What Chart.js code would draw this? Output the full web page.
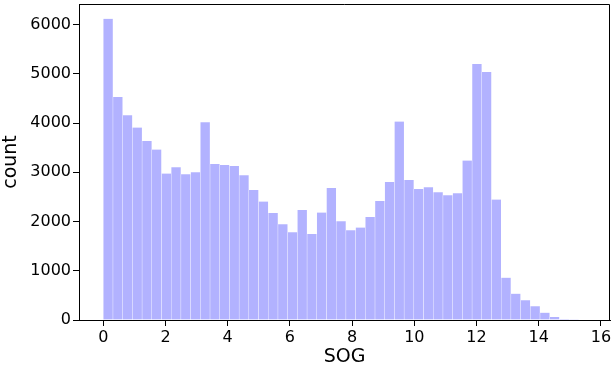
<!DOCTYPE html>
<html>
<head>
<meta charset="utf-8">
<script src="https://cdn.jsdelivr.net/npm/chart.js@4/dist/chart.umd.min.js"></script>
<style>
  html, body { margin: 0; padding: 0; background: #fff; }
  #wrap { width: 611px; height: 370px; }
</style>
</head>
<body>
<div id="wrap"><canvas id="grafico" width="611" height="370"></canvas></div>
<script>
// dados do histograma (SOG), 50 bins de 0 a ~15.6
const binStart = 0;
const binWidth = 0.312;
const contagens = [
  6118, 4533, 4160, 3909, 3638, 3462, 2974, 3103, 2961, 3001,
  4018, 3171, 3150, 3130, 2940, 2642, 2405, 2175, 1945, 1782,
  2236, 1748, 2182, 2683, 2005, 1822, 1877, 2093, 2419, 2805,
  4031, 2846, 2663, 2697, 2595, 2534, 2575, 3238, 5203, 5041,
  2446, 860, 535, 400, 278, 149, 61, 20, 14, 9
];
const xTicks = [0, 2, 4, 6, 8, 10, 12, 14, 16];
const yTicks = [0, 1000, 2000, 3000, 4000, 5000, 6000];
const xLabel = 'SOG';
const yLabel = 'count';

const pontos = contagens.map((c, i) => ({ x: binStart + binWidth * (i + 0.5), y: c }));

// moldura superior/direita (spines)
const moldura = {
  id: 'moldura',
  afterDraw(chart) {
    const { ctx, chartArea: a } = chart;
    ctx.save();
    ctx.strokeStyle = '#000';
    ctx.lineWidth = 1;
    ctx.beginPath();
    ctx.moveTo(a.left, a.top + 0.5);
    ctx.lineTo(a.right - 0.5, a.top + 0.5);
    ctx.lineTo(a.right - 0.5, a.bottom);
    ctx.stroke();
    ctx.restore();
  }
};

const fonteTick = { family: 'DejaVu Sans', size: 16 };
const fonteTitulo = { family: 'DejaVu Sans', size: 19 };

// zera o padding extra que o chart.js reserva p/ os rotulos das pontas
function semPadding(s) {
  s.paddingLeft = 0; s.paddingRight = 0; s.paddingTop = 0; s.paddingBottom = 0;
}

new Chart(document.getElementById('grafico').getContext('2d'), {
  type: 'bar',
  data: {
    datasets: [{
      data: pontos,
      backgroundColor: 'rgba(0, 0, 255, 0.3)',
      borderColor: 'rgba(255, 255, 255, 0.35)',
      borderWidth: { left: 0.5, right: 0.5, top: 0, bottom: 0 },
      borderSkipped: false,
      barPercentage: 1,
      categoryPercentage: 1
    }]
  },
  options: {
    responsive: false,
    animation: false,
    layout: { padding: { top: 4, right: 1, left: 0, bottom: 0 } },
    plugins: { legend: { display: false }, tooltip: { enabled: false } },
    scales: {
      x: {
        type: 'linear',
        min: -0.78,
        max: 16.29,
        offset: false,
        afterBuildTicks: s => { s.ticks = xTicks.map(v => ({ value: v })); },
        afterFit: s => { s.height = 50; semPadding(s); },
        grid: { offset: false, drawOnChartArea: false, drawTicks: true, tickLength: 6, color: '#000' },
        border: { display: true, color: '#000', width: 1 },
        ticks: { color: '#000', font: fonteTick, padding: 2, maxRotation: 0, callback: v => String(v) },
        title: { display: true, text: xLabel, color: '#000', font: fonteTitulo, padding: { top: 0, bottom: 2 } }
      },
      y: {
        min: 0,
        max: 6420,
        afterBuildTicks: s => { s.ticks = yTicks.map(v => ({ value: v })); },
        afterFit: s => { s.width = 79; semPadding(s); },
        grid: { drawOnChartArea: false, drawTicks: true, tickLength: 6, color: '#000' },
        border: { display: true, color: '#000', width: 1 },
        ticks: { color: '#000', font: fonteTick, padding: 2, callback: v => String(v) },
        title: { display: true, text: yLabel, color: '#000', font: fonteTitulo, padding: { top: 0, bottom: 4 } }
      }
    }
  },
  plugins: [moldura]
});
</script>
</body>
</html>
